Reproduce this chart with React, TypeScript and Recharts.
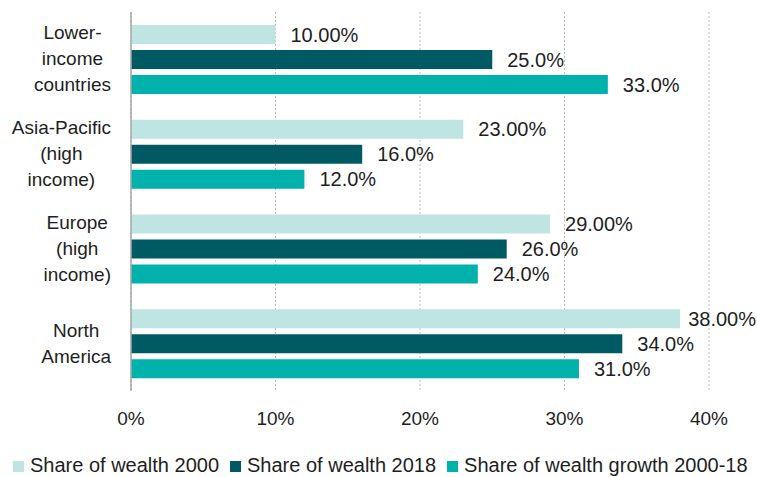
import React from "react";
import {
  BarChart,
  Bar,
  XAxis,
  YAxis,
  CartesianGrid,
  Legend,
  LabelList,
} from "recharts";

const categories = [
  "Lower-\nincome\ncountries",
  "Asia-Pacific\n(high\nincome)",
  "Europe\n(high\nincome)",
  "North\nAmerica",
];
const share2000 = [10, 23, 29, 38];
const share2018 = [25, 16, 26, 34];
const shareGrowth = [33, 12, 24, 31];
const xTicks = [0, 10, 20, 30, 40];

const seriesNames = [
  "Share of wealth 2000",
  "Share of wealth 2018",
  "Share of wealth growth 2000-18",
];
const colors = ["#BFE5E2", "#005A64", "#00B2AB"];
const decimals = [2, 1, 1];

const data = categories.map((name, i) => ({
  name,
  s2000: share2000[i],
  s2018: share2018[i],
  growth: shareGrowth[i],
}));

const CHART_W = 757;
const CHART_H = 477;
const FONT = "'Liberation Sans', Arial, sans-serif";
const TEXT = "#1E1E1E";

let measureCtx: CanvasRenderingContext2D | null = null;
function measure(text: string, size: number): number {
  if (!measureCtx) {
    const c = document.createElement("canvas");
    measureCtx = c.getContext("2d");
  }
  if (!measureCtx) return text.length * size * 0.5;
  measureCtx.font = `${size}px 'Liberation Sans', Arial, sans-serif`;
  return measureCtx.measureText(text).width;
}

const CategoryTick = (props: any) => {
  const { x, y, payload } = props;
  const lines: string[] = String(payload.value).split("\n");
  const size = 19;
  const lh = 26;
  const maxW = Math.max(...lines.map((l) => measure(l, size)));
  const cx = x - maxW / 2;
  const n = lines.length;
  return (
    <g>
      {lines.map((l, i) => (
        <text
          key={i}
          x={cx}
          y={y + (i - (n - 1) / 2) * lh + 6}
          textAnchor="middle"
          fontSize={size}
          fontFamily={FONT}
          fill={TEXT}
        >
          {l}
        </text>
      ))}
    </g>
  );
};

const makeValueLabel = (dec: number) => (props: any) => {
  const { x, y, width, height, value } = props;
  const size = 20;
  const txt = `${Number(value).toFixed(dec)}%`;
  const w = measure(txt, size);
  const tx = Math.min(Number(x) + Number(width) + 15, CHART_W - w - 1);
  return (
    <text
      x={tx}
      y={Number(y) + Number(height) / 2}
      dominantBaseline="central"
      fontSize={size}
      fontFamily={FONT}
      fill={TEXT}
    >
      {txt}
    </text>
  );
};

const LegendContent = () => (
  <div
    style={{
      height: 23,
      lineHeight: "23px",
      fontSize: 20,
      fontFamily: FONT,
      color: TEXT,
      whiteSpace: "nowrap",
      paddingLeft: 13,
      textAlign: "left",
      boxSizing: "border-box",
    }}
  >
    {seriesNames.map((n, i) => (
      <span key={n} style={{ marginRight: 11 }}>
        <span
          style={{
            display: "inline-block",
            width: 11,
            height: 11,
            background: colors[i],
            marginRight: 6,
          }}
        />
        {n}
      </span>
    ))}
  </div>
);

const seriesKeys = ["s2000", "s2018", "growth"];

export default function App() {
  return (
    <div style={{ position: "absolute", left: 0, top: 0, fontFamily: FONT }}>
      <BarChart
        width={CHART_W}
        height={CHART_H}
        data={data}
        layout="vertical"
        margin={{ top: 12, right: 48, left: 0, bottom: 0 }}
        barSize={19}
        barGap={6}
      >
        <CartesianGrid
          horizontal={false}
          strokeDasharray="2 2"
          stroke="#BDBDBD"
        />
        <XAxis
          type="number"
          domain={[0, 40]}
          ticks={xTicks}
          tickFormatter={(v: number) => `${v}%`}
          axisLine={false}
          tickLine={false}
          tickSize={6}
          tickMargin={15}
          height={63}
          tick={{ fontSize: 19, fill: TEXT, fontFamily: FONT }}
          interval={0}
        />
        <YAxis
          type="category"
          dataKey="name"
          width={131}
          axisLine={{ stroke: "#A6A6A6", strokeWidth: 1.5 }}
          tickLine={false}
          tickSize={0}
          tickMargin={20}
          tick={<CategoryTick />}
          interval={0}
        />
        <Legend
          verticalAlign="bottom"
          align="left"
          content={<LegendContent />}
          wrapperStyle={{ left: 0, bottom: 0, width: CHART_W, height: 23 }}
        />
        {seriesKeys.map((k, i) => (
          <Bar
            key={k}
            dataKey={k}
            name={seriesNames[i]}
            fill={colors[i]}
            isAnimationActive={false}
          >
            <LabelList dataKey={k} content={makeValueLabel(decimals[i])} />
          </Bar>
        ))}
      </BarChart>
    </div>
  );
}
